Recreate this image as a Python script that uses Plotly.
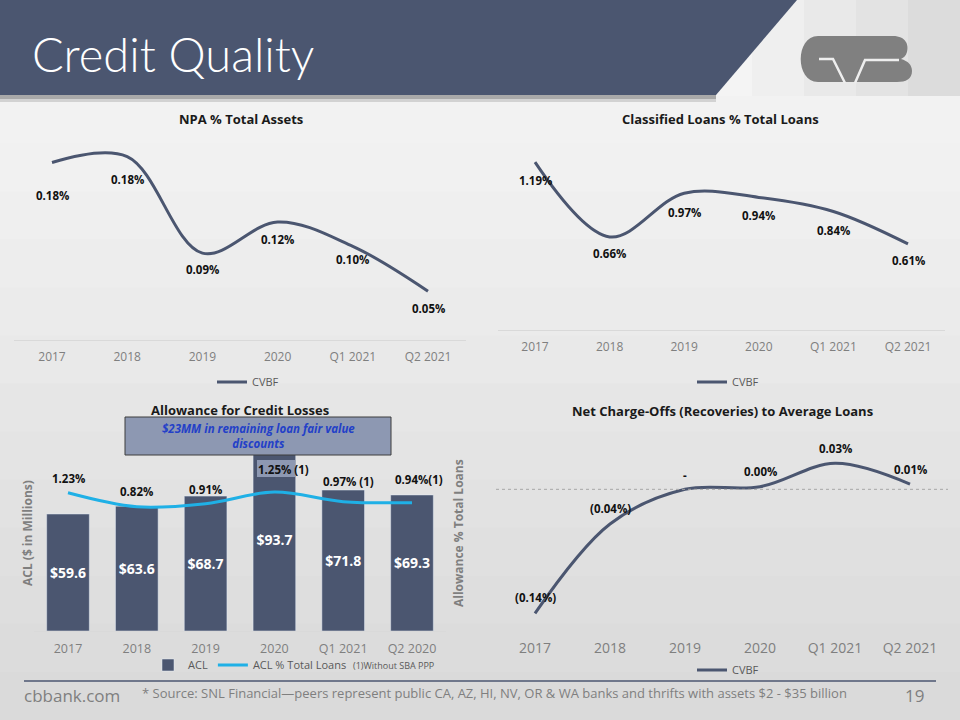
import plotly.graph_objects as go

W, H = 960, 720
def X(p): return p / W
def Y(p): return 1 - p / H

# ---------------- data ----------------
cats = ["2017", "2018", "2019", "2020", "Q1 2021", "Q2 2021"]
acl_cats = ["2017", "2018", "2019", "2020", "Q1 2021", "Q2 2020"]

npa_vals = [0.182, 0.188, 0.089, 0.121, 0.096, 0.050]
npa_labels = ["0.18%", "0.18%", "0.09%", "0.12%", "0.10%", "0.05%"]

classified_vals = [1.19, 0.66, 0.97, 0.94, 0.84, 0.61]
classified_labels = ["1.19%", "0.66%", "0.97%", "0.94%", "0.84%", "0.61%"]

acl_vals = [59.6, 63.6, 68.7, 93.7, 71.8, 69.3]
acl_labels = ["$59.6", "$63.6", "$68.7", "$93.7", "$71.8", "$69.3"]
acl_pct_vals = [1.23, 0.82, 0.91, 1.25, 0.97, 0.94]
acl_pct_labels = ["1.23%", "0.82%", "0.91%", "1.25% (1)", "0.97% (1)", "0.94%(1)"]

nco_vals = [-0.143, -0.040, 0.0, 0.003, 0.030, 0.006]
nco_labels = ["(0.14%)", "(0.04%)", "-", "0.00%", "0.03%", "0.01%"]

# ---------------- styles ----------------
NAVY = "#4b5670"
LBLUE = "#1fb0e6"
GRAY_TXT = "#7f7f7f"
FONT = "Open Sans"
npa_dy = [33, 23, 16, 18, 13, 17]
cls_dy = [18, 17, 19, 18, 19, 17]
acl_shift = [(0, 14), (0, 15), (0, 14), (9, 23), (5, 20), (7, 23)]
nco_dy = [16, 15, 14, 15, 15, 15]

fig = go.Figure()

fig.add_trace(go.Scatter(x=cats, y=npa_vals, mode="lines", name="CVBF",
                         line=dict(color=NAVY, width=3, shape="spline"),
                         xaxis="x", yaxis="y", legend="legend"))
fig.add_trace(go.Scatter(x=cats, y=classified_vals, mode="lines", name="CVBF",
                         line=dict(color=NAVY, width=3, shape="spline"),
                         xaxis="x2", yaxis="y2", legend="legend2"))
fig.add_trace(go.Bar(x=acl_cats, y=acl_vals, name="ACL", marker=dict(color=NAVY),
                     text=acl_labels, textposition="inside", insidetextanchor="middle",
                     textfont=dict(color="white", size=14, family=FONT, weight="bold"),
                     xaxis="x3", yaxis="y3", legend="legend3"))
fig.add_trace(go.Scatter(x=acl_cats, y=acl_pct_vals, mode="lines", name="ACL % Total Loans",
                         line=dict(color=LBLUE, width=3, shape="spline"),
                         xaxis="x3", yaxis="y4", legend="legend3"))
fig.add_trace(go.Scatter(x=cats, y=nco_vals, mode="lines", name="CVBF",
                         line=dict(color=NAVY, width=3, shape="spline"),
                         xaxis="x4", yaxis="y5", legend="legend4"))

shapes = []
# background gradient bands
bg_cols = ["#f2f2f2", "#f1f1f1", "#efefef", "#ededed", "#ebebeb", "#e9e9e9", "#e6e6e6",
           "#e4e4e4", "#e2e2e2", "#e0e0e0", "#dedede", "#dcdcdc", "#dadada"]
n = len(bg_cols)
for i, c in enumerate(bg_cols):
    y0 = 95 + i * (625 / n)
    y1 = 95 + (i + 1) * (625 / n) + 1
    shapes.append(dict(type="rect", xref="paper", yref="paper", x0=0, x1=1, y0=Y(y1), y1=Y(y0),
                       fillcolor=c, line=dict(width=0), layer="below"))
# header right side (light gradient)
hdr_cols = ["#f4f4f4", "#efefef", "#e9e9e9", "#e3e3e3", "#dcdcdc"]
for i, c in enumerate(hdr_cols):
    x0 = 700 + i * 52
    shapes.append(dict(type="rect", xref="paper", yref="paper", x0=X(x0), x1=X(x0 + 53), y0=Y(96), y1=1,
                       fillcolor=c, line=dict(width=0), layer="below"))
shapes.append(dict(type="path", xref="paper", yref="paper",
                   path=f"M {X(0)},{Y(0)} L {X(797)},{Y(0)} L {X(716)},{Y(95)} L {X(0)},{Y(95)} Z",
                   fillcolor=NAVY, line=dict(width=0), layer="below"))
shapes.append(dict(type="rect", xref="paper", yref="paper", x0=0, x1=X(716), y0=Y(99), y1=Y(95),
                   fillcolor="#a9a9a9", line=dict(width=0), layer="below"))
shapes.append(dict(type="rect", xref="paper", yref="paper", x0=0, x1=X(716), y0=Y(102), y1=Y(99),
                   fillcolor="#d2d2d2", line=dict(width=0), layer="below"))

# logo
def P(pts):
    return " ".join(f"{X(a)},{Y(b)}" for a, b in pts)
logo_path = ("M " + P([(818, 36)]) + " L " + P([(893, 36)]) +
             " C " + P([(906, 36), (909, 45), (907, 52)]) +
             " C " + P([(906, 56), (903, 58), (901, 59)]) +
             " C " + P([(908, 61), (912, 65), (912, 71)]) +
             " C " + P([(912, 79), (906, 82), (897, 82)]) +
             " L " + P([(818, 82)]) +
             " C " + P([(795, 82), (795, 36), (818, 36)]) + " Z")
shapes.append(dict(type="path", xref="paper", yref="paper", path=logo_path,
                   fillcolor="#808080", line=dict(width=0)))
shapes.append(dict(type="path", xref="paper", yref="paper",
                   path="M " + P([(819, 59)]) + " L " + P([(833, 59)]) + " L " + P([(845, 83)]),
                   line=dict(color="#eeeeee", width=2.5)))
shapes.append(dict(type="path", xref="paper", yref="paper",
                   path="M " + P([(855, 83)]) + " L " + P([(865, 60)]) + " L " + P([(899, 60)]),
                   line=dict(color="#eeeeee", width=2.5)))

# zero line for NCO chart
shapes.append(dict(type="line", xref="paper", yref="y5", x0=X(496), x1=X(948), y0=0, y1=0,
                   line=dict(color="#a6a6a6", width=1, dash="dot")))
# fair value box
shapes.append(dict(type="rect", xref="paper", yref="paper", x0=X(125), x1=X(391), y0=Y(455), y1=Y(417),
                   fillcolor="#8d98b2", line=dict(color="#3c3c3c", width=1), layer="above"))
shapes.append(dict(type="rect", xref="paper", yref="paper", x0=X(257), x1=X(295), y0=Y(477), y1=Y(460),
                   fillcolor="#8d98b2", line=dict(width=0), layer="above"))
# footer line
shapes.append(dict(type="line", xref="paper", yref="paper", x0=X(24), x1=X(936), y0=Y(681), y1=Y(681),
                   line=dict(color=NAVY, width=1.5)))

ann = []
def text(x, y, s, size=12, color="#1a1a1a", bold=False, italic=False, xanchor="center", angle=0,
         family=FONT, weight=None):
    ann.append(dict(x=X(x), y=Y(y), xref="paper", yref="paper", text=s, showarrow=False,
                    xanchor=xanchor, yanchor="middle", textangle=angle,
                    font=dict(size=size, color=color, family=family,
                              weight=weight if weight else ("bold" if bold else "normal"),
                              style="italic" if italic else "normal")))

text(30, 54, "Credit Quality", size=47, color="white", xanchor="left", family="Lato", weight=300)
text(241, 119, "NPA % Total Assets", size=13, bold=True)
text(720, 119, "Classified Loans % Total Loans", size=13, bold=True)
text(240, 410, "Allowance for Credit Losses", size=13, bold=True)
text(722, 411, "Net Charge-Offs (Recoveries) to Average Loans", size=13, bold=True)
text(258, 436, "$23MM in remaining loan fair value<br>discounts", size=11.5, color="#2340c8", bold=True, italic=True)
text(27, 533, "ACL ($ in Millions)", size=12, color=GRAY_TXT, bold=True, angle=-90)
text(458, 533, "Allowance % Total Loans", size=12, color=GRAY_TXT, bold=True, angle=-90)
text(393, 665, "(1)Without SBA PPP", size=9, color="#595959")
text(22, 695, "cbbank.com", size=17, color=GRAY_TXT, xanchor="left")
text(140, 693, "* Source: SNL Financial\u2014peers represent public CA, AZ, HI, NV, OR &amp; WA banks and thrifts with assets $2 - $35 billion",
     size=13, color=GRAY_TXT, xanchor="left")
text(914, 695, "19", size=17, color=GRAY_TXT)

lab_font = dict(size=11.5, color="#111111", family=FONT, weight="bold")
for i, (v, s, d) in enumerate(zip(npa_vals, npa_labels, npa_dy)):
    ann.append(dict(x=i, y=v, xref="x", yref="y", text=s, showarrow=False, yshift=-d, font=lab_font))
for i, (v, s, d) in enumerate(zip(classified_vals, classified_labels, cls_dy)):
    ann.append(dict(x=i, y=v, xref="x2", yref="y2", text=s, showarrow=False, yshift=-d, font=lab_font))
for i, (v, s, (dx, dy)) in enumerate(zip(acl_pct_vals, acl_pct_labels, acl_shift)):
    ann.append(dict(x=i, y=v, xref="x3", yref="y4", text=s, showarrow=False, xshift=dx, yshift=dy, font=lab_font))
for i, (v, s, d) in enumerate(zip(nco_vals, nco_labels, nco_dy)):
    ann.append(dict(x=i, y=v, xref="x4", yref="y5", text=s, showarrow=False, yshift=d, font=lab_font))

def xax(dom, anchor, size=12, line=True):
    return dict(domain=dom, anchor=anchor, type="category", range=[-0.5, 5.5],
                showline=line, linecolor="#d9d9d9", linewidth=1,
                showgrid=False, zeroline=False, ticks="", ticklabelstandoff=6,
                tickfont=dict(size=size, color=GRAY_TXT, family=FONT), fixedrange=True)
def yax(dom, rng, **kw):
    d = dict(domain=dom, range=rng, visible=False, showgrid=False, zeroline=False, fixedrange=True)
    d.update(kw)
    return d

leg = lambda x, y: dict(x=X(x), y=Y(y), xanchor="center", yanchor="middle", orientation="h",
                        bgcolor="rgba(0,0,0,0)", itemwidth=30,
                        font=dict(size=11, color="#595959", family=FONT))

fig.update_layout(
    width=W, height=H, margin=dict(l=0, r=0, t=0, b=0),
    paper_bgcolor="#e2e2e2", plot_bgcolor="rgba(0,0,0,0)",
    font=dict(family=FONT),
    showlegend=True, bargap=0.38,
    xaxis=xax([X(14.4), X(465.6)], "y"),
    yaxis=yax([Y(340), Y(140)], [0, 0.205]),
    xaxis2=xax([X(497.7), X(945.3)], "y2"),
    yaxis2=yax([Y(330), Y(140)], [0, 1.347]),
    xaxis3=xax([X(33.6), X(446.4)], "y3", size=12.5),
    yaxis3=yax([Y(631), Y(417)], [0, 109]),
    yaxis4=yax([Y(631), Y(417)], [-2.824, 3.452], overlaying="y3", side="right"),
    xaxis4=xax([X(497.5), X(947.5)], "y5", size=14, line=False),
    yaxis5=yax([Y(632), Y(425)], [-0.1646, 0.0742]),
    legend=leg(248, 382),
    legend2=leg(728, 382),
    legend3=leg(250, 665),
    legend4=leg(728, 670),
    shapes=shapes, annotations=ann,
)

fig.write_html("out.html", config={"displayModeBar": False},
               post_script="document.body.style.margin='0px';document.body.style.padding='0px';document.body.style.overflow='hidden';")
